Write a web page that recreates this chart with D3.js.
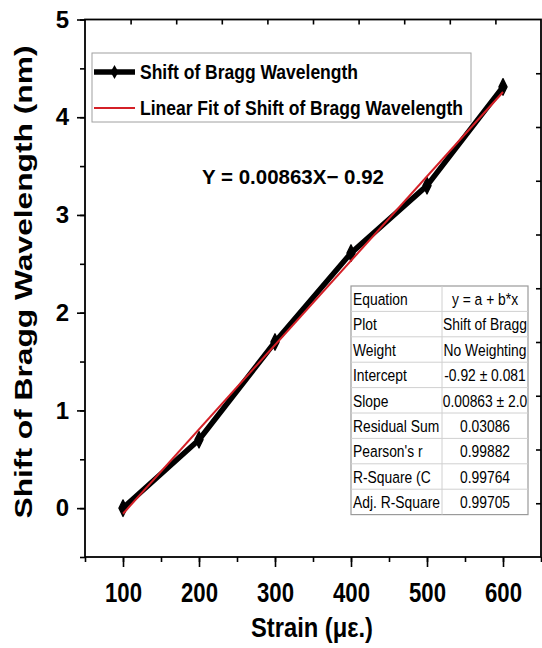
<!DOCTYPE html>
<html>
<head>
<meta charset="utf-8">
<script src="https://cdn.jsdelivr.net/npm/d3@7"></script>
<style>
  body { margin: 0; background: #fff; }
  svg { display: block; font-family: "Liberation Sans", Arial, sans-serif; }
</style>
</head>
<body>
<svg width="542" height="648"></svg>
<script>
// data
const strain = [100, 200, 300, 400, 500, 600];
const shift = [0.00, 0.70, 1.70, 2.61, 3.30, 4.31];
const fitIntercept = -0.92;
const fitSlope = 0.00863;

const xTicks = [100, 200, 300, 400, 500, 600];
const yTicks = [0, 1, 2, 3, 4, 5];
const legendLabels = ["Shift of Bragg Wavelength", "Linear Fit of Shift of Bragg Wavelength"];
const equationText = "Y = 0.00863X\u2212 0.92";

const tableLeft = ["Equation", "Plot", "Weight", "Intercept", "Slope", "Residual Sum", "Pearson's r", "R-Square (C", "Adj. R-Square"];
const tableRight = ["y = a + b*x", "Shift of Bragg", "No Weighting", "-0.92 \u00b1 0.081", "0.00863 \u00b1 2.0", "0.03086", "0.99882", "0.99764", "0.99705"];

const svg = d3.select("svg");
const plotL = 85, plotR = 541, plotT = 19.5, plotB = 557;

const x = d3.scaleLinear().domain([50, 650]).range([plotL, plotR]);
const y = d3.scaleLinear().domain([-0.5, 5]).range([plotB, plotT]);
// top and right axes only carry plain inner ticks at tenths
const xTop = d3.scaleLinear().domain([0, 1]).range([plotL, plotR]);
const yRight = d3.scaleLinear().domain([0, 1]).range([plotB, plotT]);
const tenths = d3.range(1, 10).map(i => i / 10);

// bottom axis: minor ticks then major ticks with labels
svg.append("g")
    .attr("transform", `translate(0,${plotB})`)
    .call(d3.axisBottom(x).tickValues(d3.range(50, 651, 50)).tickSize(5).tickFormat(""))
    .call(g => g.select(".domain").remove());
svg.append("g")
    .attr("transform", `translate(0,${plotB})`)
    .call(d3.axisBottom(x).tickValues(xTicks).tickSize(10).tickPadding(16))
    .call(g => g.select(".domain").remove())
    .call(g => g.selectAll("text")
        .attr("font-size", 27).attr("font-weight", "bold").attr("fill", "#000")
        .attr("textLength", 37).attr("lengthAdjust", "spacingAndGlyphs"));

// left axis
svg.append("g")
    .attr("transform", `translate(${plotL},0)`)
    .call(d3.axisLeft(y).tickValues(d3.range(-0.5, 5.01, 0.5)).tickSize(5).tickFormat(""))
    .call(g => g.select(".domain").remove());
svg.append("g")
    .attr("transform", `translate(${plotL},0)`)
    .call(d3.axisLeft(y).tickValues(yTicks).tickSize(8).tickPadding(8).tickFormat(d3.format("d")))
    .call(g => g.select(".domain").remove())
    .call(g => g.selectAll("text")
        .attr("font-size", 24).attr("font-weight", "bold").attr("fill", "#000"));

// top and right
svg.append("g")
    .attr("transform", `translate(0,${plotT})`)
    .call(d3.axisBottom(xTop).tickValues(tenths).tickSize(5).tickFormat(""))
    .call(g => g.select(".domain").remove());
svg.append("g")
    .attr("transform", `translate(${plotR},0)`)
    .call(d3.axisLeft(yRight).tickValues(tenths).tickSize(5).tickFormat(""))
    .call(g => g.select(".domain").remove());

svg.selectAll(".tick line").attr("stroke", "#000").attr("stroke-width", 1.6);

// frame
svg.append("rect")
    .attr("x", plotL).attr("y", plotT)
    .attr("width", plotR - plotL).attr("height", plotB - plotT)
    .attr("fill", "none").attr("stroke", "#000").attr("stroke-width", 1.8);

// axis titles
svg.append("text")
    .attr("x", 312).attr("y", 637)
    .attr("text-anchor", "middle")
    .attr("font-size", 28).attr("font-weight", "bold")
    .attr("textLength", 122).attr("lengthAdjust", "spacingAndGlyphs")
    .text("Strain (\u03bc\u03b5.)");

svg.append("text")
    .attr("transform", "translate(32,282) rotate(-90)")
    .attr("text-anchor", "middle")
    .attr("font-size", 24.5).attr("font-weight", "bold")
    .attr("textLength", 473).attr("lengthAdjust", "spacingAndGlyphs")
    .text("Shift of Bragg Wavelength (nm)");

// series
const data = strain.map((s, i) => ({ x: s, y: shift[i] }));
const line = d3.line().x(d => x(d.x)).y(d => y(d.y));

svg.append("path")
    .attr("d", line(data))
    .attr("fill", "none").attr("stroke", "#000")
    .attr("stroke-width", 5.5).attr("stroke-linejoin", "round");

const diamond = d3.symbol(d3.symbolDiamond, 70);
svg.selectAll(".pt")
    .data(data)
    .join("path")
    .attr("class", "pt")
    .attr("d", diamond)
    .attr("transform", d => `translate(${x(d.x)},${y(d.y)}) scale(0.9,1.05)`)
    .attr("fill", "#000")
    .attr("stroke", "#000").attr("stroke-width", 1.5).attr("stroke-linejoin", "round");

// linear fit
const fitEnds = [d3.min(strain), d3.max(strain)].map(s => ({ x: s, y: fitIntercept + fitSlope * s }));
svg.append("path")
    .attr("d", line(fitEnds))
    .attr("fill", "none").attr("stroke", "#d42027").attr("stroke-width", 2);

// legend
const legend = svg.append("g");
legend.append("rect")
    .attr("x", 92).attr("y", 53).attr("width", 379).attr("height", 69)
    .attr("fill", "#fff").attr("stroke", "#a0a0a0").attr("stroke-width", 1);
legend.append("line")
    .attr("x1", 94).attr("x2", 135).attr("y1", 72).attr("y2", 72)
    .attr("stroke", "#000").attr("stroke-width", 5.5);
legend.append("path")
    .attr("d", d3.symbol(d3.symbolDiamond, 55))
    .attr("transform", "translate(114.5,72)");
legend.append("line")
    .attr("x1", 94).attr("x2", 135).attr("y1", 108).attr("y2", 108)
    .attr("stroke", "#d42027").attr("stroke-width", 2);
legend.selectAll("text")
    .data(legendLabels)
    .join("text")
    .attr("x", 140)
    .attr("y", (d, i) => 79 + i * 36)
    .attr("font-size", 20).attr("font-weight", "bold")
    .attr("textLength", (d, i) => i === 0 ? 218 : 323)
    .attr("lengthAdjust", "spacingAndGlyphs")
    .text(d => d);

// equation
svg.append("text")
    .attr("x", 202).attr("y", 184)
    .attr("font-size", 20).attr("font-weight", "bold")
    .attr("textLength", 182).attr("lengthAdjust", "spacingAndGlyphs")
    .text(equationText);

// stats table, text squeezed horizontally like the original
const tx = 351, ty = 286, rowH = 25.4, colX = 442, tw = 177, squeeze = 0.84;
const table = svg.append("g");
table.append("rect")
    .attr("x", tx).attr("y", ty).attr("width", tw).attr("height", rowH * tableLeft.length)
    .attr("fill", "#fff").attr("stroke", "#9a9a9a").attr("stroke-width", 1.2);
table.selectAll(".hl")
    .data(d3.range(1, tableLeft.length))
    .join("line")
    .attr("x1", tx).attr("x2", tx + tw)
    .attr("y1", i => ty + i * rowH).attr("y2", i => ty + i * rowH)
    .attr("stroke", "#d0d0d0");
table.append("line")
    .attr("x1", colX).attr("x2", colX)
    .attr("y1", ty).attr("y2", ty + rowH * tableLeft.length)
    .attr("stroke", "#d0d0d0");
table.selectAll(".lt")
    .data(tableLeft)
    .join("text")
    .attr("transform", (d, i) => `translate(${tx + 2},${ty + i * rowH + 19}) scale(${squeeze},1)`)
    .attr("font-size", 16.5)
    .text(d => d);
table.selectAll(".rt")
    .data(tableRight)
    .join("text")
    .attr("transform", (d, i) => `translate(${(colX + tx + tw) / 2},${ty + i * rowH + 19}) scale(${squeeze},1)`)
    .attr("text-anchor", "middle")
    .attr("font-size", 16.5)
    .text(d => d);
</script>
</body>
</html>
